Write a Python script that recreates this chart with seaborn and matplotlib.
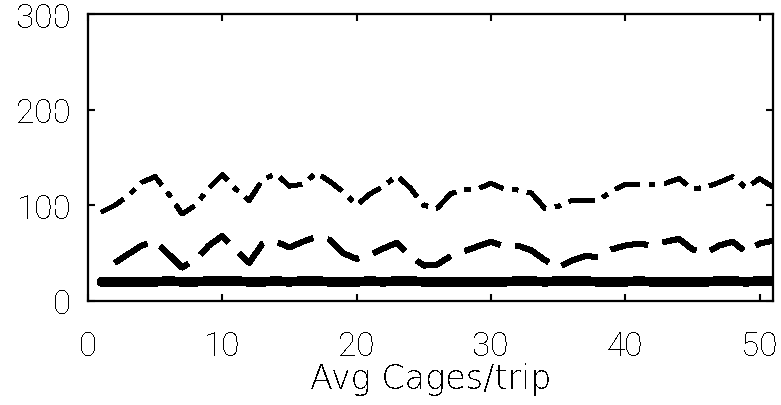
import matplotlib
matplotlib.use("Agg")
import matplotlib.pyplot as plt
import seaborn as sns
import pandas as pd
import numpy as np

# Average cages per trip (x axis)
cages = list(range(1, 52))

# Three cost curves
solid_vals = [20, 20, 20, 20, 20, 21, 20, 20, 21, 21, 21, 20, 20, 21, 20,
              21, 21, 20, 20, 20, 21, 20, 21, 21, 20, 20, 20, 20, 20, 20,
              20, 21, 21, 20, 21, 21, 21, 20, 20, 20, 21, 20, 20, 20, 20,
              20, 21, 21, 20, 21, 21]

dashed_vals = [np.nan, 40, 49, 58, 62, 49, 35, 43, 58, 68, 53, 40, 60, 62, 56,
               62, 67, 64, 50, 44, 48, 55, 61, 47, 37, 38, 47, 52, 57, 62,
               57, 58, 53, 43, 35, 42, 47, 46, 54, 58, 60, 58, 62, 65, 54,
               50, 58, 62, 51, 60, 63]

dashdot_vals = [93, 100, 110, 124, 130, 112, 91, 100, 118, 132, 117, 105, 127, 133, 120,
                122, 134, 125, 114, 100, 112, 120, 131, 118, 100, 97, 112, 117, 117, 123,
                117, 116, 113, 97, 99, 105, 105, 105, 115, 122, 122, 122, 123, 128, 117,
                119, 124, 130, 118, 128, 119]

x_ticks = [0, 10, 20, 30, 40, 50]
y_ticks = [0, 100, 200, 300]
x_label = "Avg Cages/trip"

sns.set_theme(style="white")
plt.rcParams["font.family"] = ["Roboto", "Liberation Sans", "DejaVu Sans"]
plt.rcParams["font.weight"] = "light"
plt.rcParams["text.antialiased"] = False

fig = plt.figure(figsize=(7.81, 4.06), dpi=100)
ax = fig.add_axes([88 / 781, 1 - 302 / 406, (773 - 88) / 781, (302 - 15) / 406])

df = pd.DataFrame({"cages": cages, "solid": solid_vals,
                   "dashed": dashed_vals, "dashdot": dashdot_vals})

sns.lineplot(data=df, x="cages", y="solid", ax=ax, color="black",
             linewidth=6.2, linestyle="-", antialiased=False)
sns.lineplot(data=df, x="cages", y="dashed", ax=ax, color="black",
             linewidth=3.6, linestyle=(0, (7.5, 3)), antialiased=False)
sns.lineplot(data=df, x="cages", y="dashdot", ax=ax, color="black",
             linewidth=3.0, linestyle=(0, (6, 2.2, 1.3, 2.2)), antialiased=False)

ax.set_xlim(0, 51)
ax.set_ylim(0, 300)
ax.set_xticks(x_ticks)
ax.set_yticks(y_ticks)
ax.set_xticklabels([str(t) for t in x_ticks], fontweight="light")
ax.set_yticklabels([str(t) for t in y_ticks], fontweight="light")

ax.tick_params(axis="both", which="both", direction="in", length=5, width=1.5,
               color="black", labelsize=24, labelcolor="black",
               top=True, right=True, bottom=True, left=True)
ax.tick_params(axis="x", pad=21)
ax.tick_params(axis="y", pad=12)

for side in ["top", "bottom", "left", "right"]:
    ax.spines[side].set_visible(True)
    ax.spines[side].set_color("black")
    ax.spines[side].set_linewidth(1.6)

ax.set_xlabel(x_label, fontsize=24, color="black", labelpad=0,
              family=["DejaVu Sans", "Roboto"], fontweight=200)
ax.set_ylabel("")
ax.grid(False)

fig.patch.set_facecolor("white")
ax.set_facecolor("white")
fig.savefig("out.png", dpi=100, facecolor="white")
